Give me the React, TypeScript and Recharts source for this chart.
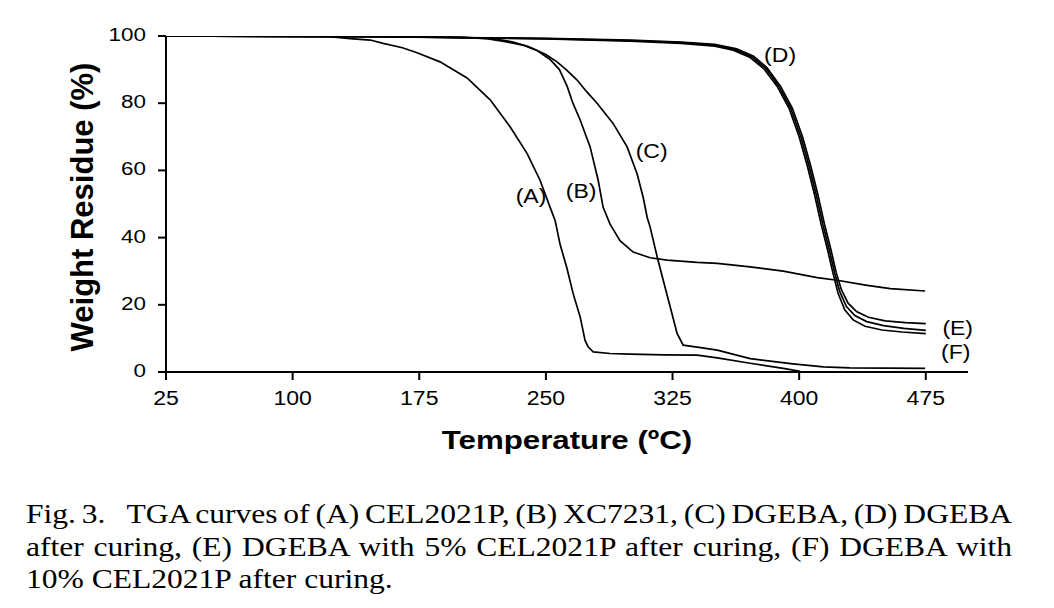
import React from 'react';
import { ComposedChart, Line, XAxis, YAxis, ReferenceDot, Label } from 'recharts';

// ---- Data (temperature °C, weight residue %) ----
const aTemp = [25, 120, 128, 134, 146, 153.6, 165, 173.7, 187.3, 203.3, 217, 228.8, 238.9, 246.6, 252.5, 255.5, 258.4, 262.4, 266.1, 270.3, 273.2, 275, 278, 288, 300, 320, 339.6, 351.5, 371, 390.6, 400.6];
const aRes = [100, 99.9, 99.5, 99.2, 98.8, 97.8, 96.5, 95, 92.3, 87.5, 81, 73, 65, 57, 49, 45, 38, 31, 23.4, 16.4, 9.4, 7.5, 6, 5.5, 5.3, 5.1, 5, 4.2, 2.6, 1.1, 0.2];

const bTemp = [25, 150, 200, 215, 225, 237, 245, 252.5, 258, 262.6, 266, 270.3, 276.2, 281, 283.9, 288, 294, 301.7, 311.7, 321.8, 339.6, 351.5, 371, 390.6, 410.7, 422.5, 440.3, 454, 474.6];
const bRes = [100, 99.9, 99.6, 99.2, 98.4, 97.2, 95.6, 93, 90, 85, 80, 75, 67, 57, 49, 44, 39, 35.7, 34, 33.3, 32.6, 32.3, 31.3, 30, 28.1, 27.3, 25.8, 24.8, 24.1];

const cTemp = [25, 150, 200, 218, 230, 240, 250, 256.6, 262, 268.5, 274, 280.3, 289.8, 298.1, 304, 307.6, 310, 311.7, 315.9, 319.5, 323.6, 327.7, 331.3, 339.6, 351.5, 371, 395, 414.3, 430, 474.6];
const cRes = [100, 99.9, 99.6, 99.2, 98.3, 96.8, 94.5, 92.3, 90, 86.9, 83.5, 80, 74, 67, 59, 52, 46, 43.2, 34.3, 27.3, 19.4, 11.5, 8, 7.4, 6.5, 4, 2.5, 1.5, 1.2, 1.1];

const dTemp = [25, 150, 250, 300, 330, 350, 362, 372, 380, 388, 395, 401, 406, 410, 414, 418, 421, 424, 428, 433, 440, 450, 462, 475];
const dRes = [100, 99.8, 99.2, 98.6, 98, 97.3, 96, 93.8, 90.5, 85, 78.5, 70, 61, 53, 44, 36, 29.5, 24, 19.5, 16.8, 15, 13.8, 13, 12.4];

const eTemp = [25, 150, 250, 300, 330, 350, 363, 373, 381, 389, 396, 402, 407, 411, 415, 419, 422, 425, 429, 434, 441, 451, 463, 475];
const eRes = [100, 99.8, 99.3, 98.8, 98.2, 97.5, 96.2, 94, 90.5, 85, 78.5, 70, 61, 53, 44, 36, 29.5, 24.5, 20.5, 18, 16.3, 15.2, 14.7, 14.4];

const fTemp = [25, 150, 250, 300, 330, 350, 361, 371, 379, 387, 394, 400, 405, 409, 413, 417, 420, 423, 427, 432, 439, 449, 461, 475];
const fRes = [100, 99.8, 99.1, 98.5, 97.8, 97, 95.8, 93.6, 90.3, 85, 78.5, 70, 61, 53, 44, 36, 29.5, 23.5, 18.5, 15.5, 13.6, 12.5, 11.9, 11.4];

const xTicks = [25, 100, 175, 250, 325, 400, 475];
const yTicks = [0, 20, 40, 60, 80, 100];

const curveNames = ['(A)', '(B)', '(C)', '(D)', '(E)', '(F)'];
const labelTemp = [241.2, 270.9, 312.6, 388.7, 493.9, 492.7];
const labelRes = [52.1, 53.6, 65.6, 94.1, 12.7, 5.7];

const xTitle = 'Temperature (ºC)';
const yTitle = 'Weight Residue (%)';
const captionLines = [
  'Fig. 3.\u2002 TGA curves of (A) CEL2021P, (B) XC7231, (C) DGEBA, (D) DGEBA',
  'after curing, (E) DGEBA with 5% CEL2021P after curing, (F) DGEBA with',
  '10% CEL2021P after curing.',
];

const toPoints = (xs: number[], ys: number[]) => xs.map((x, i) => ({ x, y: ys[i] }));
const series = [
  toPoints(aTemp, aRes),
  toPoints(bTemp, bRes),
  toPoints(cTemp, cRes),
  toPoints(dTemp, dRes),
  toPoints(eTemp, eRes),
  toPoints(fTemp, fRes),
];

const FONT = '"Liberation Sans", Arial, sans-serif';
const STRETCH = 1.18;
const CAPTION_STRETCH = 1.19;

const XTick = (props: any) => {
  const { x, y, payload } = props;
  return (
    <text
      transform={`translate(${x},${y}) scale(${STRETCH},1)`}
      x={0}
      y={25}
      textAnchor="middle"
      fontSize={19.5}
      fontFamily={FONT}
      fill="#000"
    >
      {payload.value}
    </text>
  );
};

const YTick = (props: any) => {
  const { x, y, payload } = props;
  return (
    <text
      transform={`translate(${x},${y}) scale(${STRETCH},1)`}
      x={0}
      y={5}
      textAnchor="end"
      fontSize={19}
      fontFamily={FONT}
      fill="#000"
    >
      {payload.value}
    </text>
  );
};

const XTitle = (props: any) => {
  const vb = props.viewBox || {};
  const cx = vb.x + vb.width / 2;
  const by = vb.y + 77;
  return (
    <text
      transform={`translate(${cx},${by}) scale(${STRETCH},1)`}
      x={0}
      y={0}
      textAnchor="middle"
      fontSize={26.5}
      fontWeight="bold"
      fontFamily={FONT}
      fill="#000"
    >
      {xTitle}
    </text>
  );
};

const YTitle = (props: any) => {
  const vb = props.viewBox || {};
  const cx = 93;
  const cy = vb.y + vb.height / 2 + 3;
  return (
    <text
      transform={`translate(${cx},${cy}) rotate(-90)`}
      x={0}
      y={0}
      textAnchor="middle"
      fontSize={31}
      fontWeight="bold"
      fontFamily={FONT}
      fill="#000"
    >
      {yTitle}
    </text>
  );
};

const makeLabelShape = (text: string) => (props: any) => {
  const { cx, cy } = props;
  return (
    <text
      transform={`translate(${cx},${cy}) scale(${STRETCH},1)`}
      x={0}
      y={6}
      textAnchor="middle"
      fontSize={19.5}
      fontFamily={FONT}
      fill="#000"
    >
      {text}
    </text>
  );
};

export default function App() {
  return (
    <div style={{ position: 'absolute', left: 0, top: 0, width: 1054, height: 608, background: '#fff' }}>
      <ComposedChart
        width={1054}
        height={470}
        margin={{ top: 36, right: 86, left: 0, bottom: 38 }}
      >
        <XAxis
          type="number"
          dataKey="x"
          domain={[25, 500]}
          ticks={xTicks}
          allowDataOverflow
          axisLine={{ stroke: '#000', strokeWidth: 2 }}
          tickLine={{ stroke: '#000', strokeWidth: 2 }}
          tickSize={8}
          tickMargin={0}
          height={60}
          tick={<XTick />}
        >
          <Label content={<XTitle />} />
        </XAxis>
        <YAxis
          type="number"
          dataKey="y"
          domain={[0, 100]}
          ticks={yTicks}
          allowDataOverflow
          axisLine={{ stroke: '#000', strokeWidth: 2 }}
          tickLine={{ stroke: '#000', strokeWidth: 2 }}
          tickSize={8}
          tickMargin={12}
          width={166}
          tick={<YTick />}
        >
          <Label content={<YTitle />} />
        </YAxis>
        {series.map((pts, i) => (
          <Line
            key={curveNames[i]}
            data={pts}
            dataKey="y"
            type="linear"
            stroke="#000"
            strokeWidth={1.7}
            dot={false}
            activeDot={false}
            isAnimationActive={false}
          />
        ))}
        {curveNames.map((name, i) => (
          <ReferenceDot
            key={'lbl' + name}
            x={labelTemp[i]}
            y={labelRes[i]}
            r={0}
            ifOverflow="visible"
            shape={makeLabelShape(name)}
          />
        ))}
      </ComposedChart>
      <div
        style={{
          position: 'absolute',
          left: 26,
          top: 498,
          width: 986 / CAPTION_STRETCH,
          transform: `scaleX(${CAPTION_STRETCH})`,
          transformOrigin: '0 0',
          fontFamily: '"Liberation Serif", "Times New Roman", serif',
          fontSize: 26.5,
          lineHeight: '32.5px',
          color: '#000',
        }}
      >
        {captionLines.map((line, i) => {
          const justified = i < captionLines.length - 1;
          return (
            <div
              key={i}
              style={{
                textAlign: justified ? 'justify' : 'left',
                textAlignLast: justified ? 'justify' : 'left',
                whiteSpace: 'nowrap',
                wordSpacing: i === 0 ? '-2.5px' : 'normal',
              } as React.CSSProperties}
            >
              {line}
            </div>
          );
        })}
      </div>
    </div>
  );
}
